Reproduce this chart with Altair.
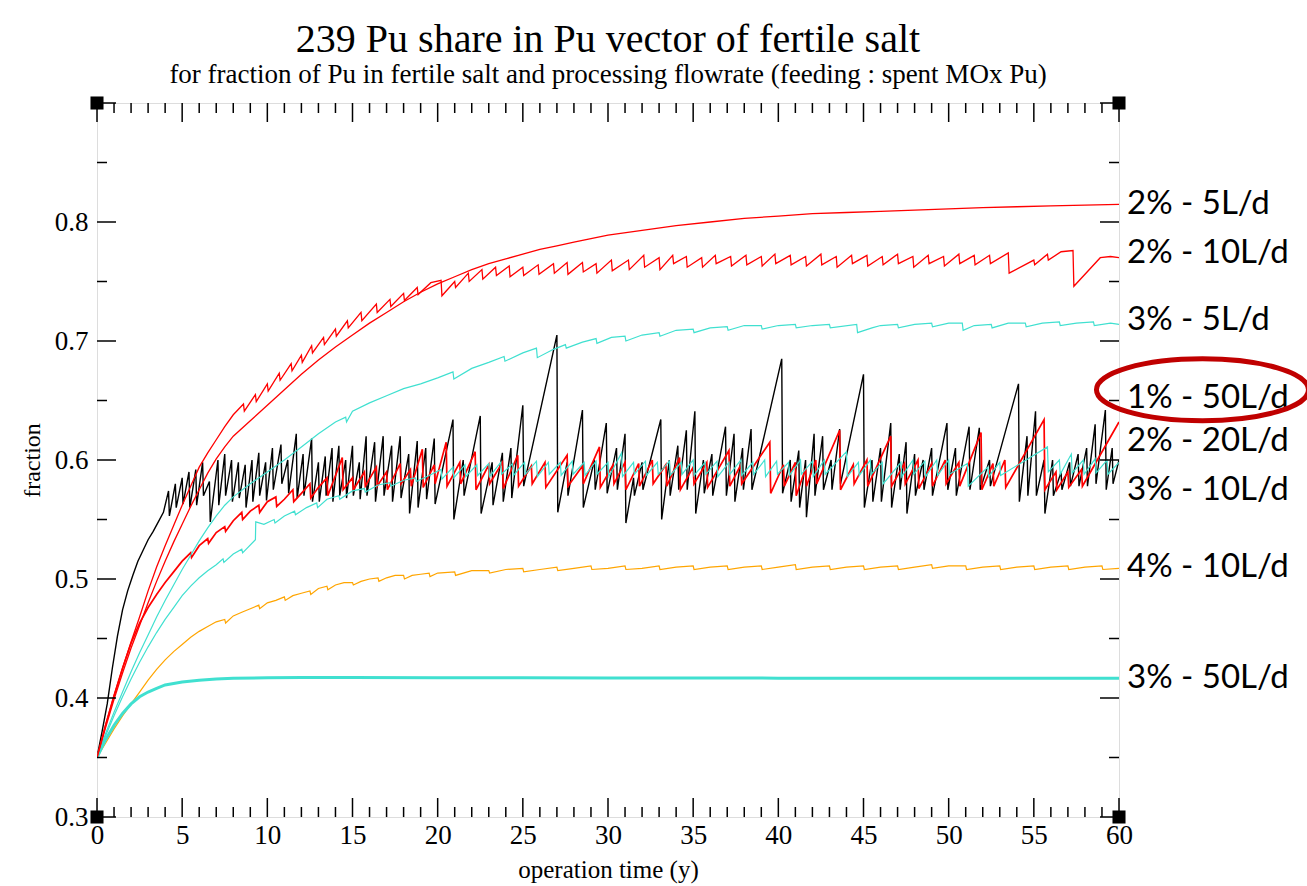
import altair as alt
import pandas as pd

# ---------------- data ----------------
RED_5 = [(0,0.35),(0.5,0.375),(1,0.399),(1.5,0.421),(2,0.442),(2.5,0.461),(3,0.48),(3.5,0.498),(4,0.515),(4.5,0.531),
         (5,0.546),(5.5,0.561),(6,0.575),(6.5,0.589),(7,0.601),(7.5,0.611),(8,0.62),(9,0.633),(10,0.646),(11,0.659),
         (12,0.672),(13,0.684),(14,0.695),(15,0.705),(16,0.715),(17,0.724),(18,0.733),(19,0.741),(20,0.748),(21,0.754),
         (22,0.76),(23,0.765),(24,0.769),(25,0.773),(26,0.777),(27,0.78),(28,0.783),(29,0.786),(30,0.789),(32,0.793),
         (34,0.797),(36,0.8),(38,0.803),(40,0.805),(42,0.807),(44,0.808),(46,0.809),(48,0.81),(50,0.811),(52,0.812),
         (54,0.8128),(56,0.8135),(58,0.8142),(60,0.8148)]

RED_10 = [(0,0.35),(0.5,0.377),(1,0.402),(1.5,0.425),(2,0.447),(2.5,0.468),(3,0.49),(3.5,0.51),(4,0.528),(4.5,0.545),
          (5,0.562),(5.5,0.578),(6,0.594),(6.5,0.606),(7,0.617),(7.5,0.628),(8,0.638),(8.6,0.647),(8.65,0.641),(9.3,0.655),
          (9.35,0.649),(10.0,0.664),(10.05,0.658),(10.7,0.673),(10.75,0.667),(11.4,0.681),(11.45,0.675),(12.0,0.688),
          (12.05,0.682),(12.6,0.696),(12.65,0.69),(13.3,0.703),(13.35,0.697),(14.0,0.71),(14.05,0.704),(14.7,0.717),
          (14.75,0.711),(15.5,0.724),(15.55,0.717),(16.4,0.731),(16.45,0.724),(17.2,0.735),(17.25,0.729),(18.0,0.74),
          (18.05,0.734),(18.8,0.745),(18.85,0.739),(19.6,0.749),(20.2,0.751),(20.25,0.738),(21.0,0.75),(21.05,0.745),
          (21.8,0.757),(21.85,0.75),(22.6,0.76),(22.65,0.752),(23.4,0.762),(23.45,0.755),(24.2,0.763),(24.25,0.754),
          (25.0,0.762),(25.05,0.755),(25.9,0.764),(25.95,0.756),(26.8,0.765),(26.85,0.757),(27.6,0.766),(27.65,0.756),
          (28.5,0.766),(28.55,0.758),(29.3,0.765),(29.35,0.757),(30.2,0.768),(30.25,0.759),(31.2,0.768),(31.25,0.76),
          (32.1,0.772),(32.15,0.762),(33.0,0.77),(33.05,0.76),(33.8,0.772),(33.85,0.765),(34.6,0.771),(34.65,0.762),
          (35.5,0.77),(35.55,0.762),(36.3,0.772),(36.35,0.765),(37.2,0.771),(37.25,0.763),(38.1,0.772),(38.15,0.764),
          (39.0,0.771),(39.05,0.763),(39.8,0.773),(39.85,0.765),(40.7,0.772),(40.75,0.764),(41.6,0.771),(41.65,0.763),
          (42.5,0.773),(42.55,0.764),(43.4,0.771),(43.45,0.762),(44.3,0.772),(44.35,0.765),(45.2,0.772),(45.25,0.763),
          (46.1,0.771),(46.15,0.764),(47.0,0.773),(47.05,0.765),(47.9,0.771),(47.95,0.762),(48.8,0.772),(48.85,0.765),
          (49.7,0.771),(49.75,0.763),(50.6,0.773),(50.65,0.765),(51.5,0.772),(51.55,0.764),(52.4,0.772),(52.45,0.765),
          (53.5,0.774),(53.55,0.757),(55.0,0.768),(55.05,0.764),(55.8,0.773),(55.85,0.768),(56.6,0.775),(57.3,0.776),
          (57.35,0.746),(58.9,0.77),(59.5,0.771),(60,0.77)]

CYAN_5 = [(0,0.35),(0.5,0.37),(1,0.388),(1.5,0.405),(2,0.422),(2.5,0.438),(3,0.453),(3.5,0.468),(4,0.482),(4.5,0.495),
          (5,0.508),(5.5,0.52),(6,0.532),(6.5,0.543),(7,0.553),(7.5,0.562),(8,0.569),(9,0.58),(10,0.59),(11,0.6),
          (12,0.611),(13,0.622),(14,0.632),(14.6,0.636),(14.65,0.632),(15,0.641),(16,0.648),(17,0.654),(18,0.66),
          (19,0.664),(20,0.669),(20.9,0.674),(20.95,0.668),(22,0.677),(23,0.682),(23.9,0.687),(23.95,0.683),(25,0.69),
          (25.8,0.694),(25.85,0.686),(26.8,0.693),(27.5,0.697),(27.55,0.694),(28.5,0.699),(29.3,0.702),(29.35,0.698),
          (30.2,0.703),(31.0,0.704),(31.05,0.7),(32,0.705),(33,0.707),(33.05,0.704),(34,0.709),(35,0.71),(35.05,0.707),
          (36,0.711),(37,0.712),(37.05,0.709),(38,0.713),(39,0.713),(39.05,0.71),(40,0.713),(41,0.714),(41.05,0.711),
          (42,0.713),(43,0.714),(43.05,0.711),(44.6,0.714),(44.65,0.707),(45.5,0.711),(46,0.713),(47,0.714),(47.05,0.711),
          (48,0.714),(49,0.715),(49.05,0.712),(50,0.715),(50.8,0.715),(50.85,0.709),(51.5,0.713),(52.5,0.714),
          (52.55,0.711),(53.5,0.715),(54.5,0.715),(54.55,0.712),(55.5,0.715),(56.5,0.716),(56.55,0.713),(57.5,0.715),
          (58.5,0.716),(58.55,0.713),(59.5,0.715),(60,0.714)]

BLACK_50 = [(0,0.35),(0.3,0.372),(0.6,0.395),(0.9,0.425),(1.2,0.452),(1.5,0.474),(1.8,0.49),(2.1,0.503),(2.4,0.515),
            (2.7,0.524),(3.0,0.533),(3.3,0.54),(3.6,0.548),(3.9,0.556),(4.2,0.574),(4.25,0.553),(4.6,0.58),(4.65,0.56),
            (5.0,0.585),(5.05,0.563),(5.4,0.59),(5.45,0.56),(5.8,0.592),(5.85,0.562),(6.2,0.598),(6.25,0.57),(6.6,0.582),
            (6.65,0.548),(7.1,0.6),(7.15,0.562),(7.5,0.605),(7.55,0.57),(7.9,0.6),(7.95,0.565),(8.3,0.598),(8.35,0.568),
            (8.7,0.596),(8.75,0.56),(9.1,0.6),(9.15,0.565),(9.5,0.606),(9.55,0.57),(9.9,0.598),(9.95,0.566),(10.3,0.61),
            (10.35,0.575),(10.8,0.613),(10.85,0.58),(11.2,0.6),(11.25,0.572),(11.7,0.622),(11.75,0.568),(12.1,0.605),
            (12.15,0.57),(12.6,0.618),(12.65,0.565),(13.0,0.598),(13.05,0.565),(13.4,0.603),(13.45,0.57),(13.8,0.61),
            (13.85,0.565),(14.2,0.612),(14.25,0.57),(14.6,0.6),(14.65,0.568),(15.0,0.612),(15.05,0.57),(15.4,0.598),
            (15.45,0.567),(15.8,0.62),(15.85,0.57),(16.3,0.615),(16.35,0.565),(16.8,0.62),(16.85,0.57),(17.3,0.612),
            (17.35,0.565),(17.8,0.62),(17.85,0.568),(18.3,0.605),(18.35,0.555),(18.8,0.616),(18.85,0.56),(19.3,0.61),
            (19.35,0.567),(19.8,0.618),(19.85,0.563),(20.9,0.634),(20.95,0.55),(21.5,0.6),(21.55,0.57),(22.5,0.637),
            (22.55,0.555),(23.2,0.598),(23.25,0.562),(23.8,0.606),(23.85,0.565),(24.3,0.61),(24.35,0.568),(25.0,0.646),
            (25.05,0.578),(27.0,0.705),(27.05,0.556),(27.6,0.598),(27.65,0.57),(28.5,0.642),(28.55,0.56),(29.2,0.6),
            (29.25,0.575),(29.9,0.631),(29.95,0.572),(30.5,0.61),(30.55,0.575),(31.0,0.622),(31.05,0.547),(31.5,0.585),
            (31.55,0.57),(32.0,0.598),(32.05,0.575),(33.1,0.634),(33.15,0.55),(33.6,0.6),(33.65,0.57),(34.1,0.612),
            (34.15,0.575),(34.6,0.625),(34.65,0.575),(35.1,0.641),(35.15,0.555),(35.6,0.6),(35.65,0.572),(36.1,0.605),
            (36.15,0.57),(36.9,0.628),(36.95,0.57),(37.4,0.622),(37.45,0.565),(37.9,0.61),(37.95,0.575),(38.4,0.626),
            (38.45,0.575),(40.2,0.685),(40.25,0.572),(40.7,0.6),(40.75,0.565),(41.2,0.608),(41.25,0.56),(41.6,0.6),
            (41.65,0.552),(42.1,0.622),(42.15,0.57),(42.6,0.62),(42.65,0.575),(43.1,0.6),(43.15,0.575),(43.6,0.626),
            (43.65,0.58),(45.0,0.672),(45.05,0.56),(45.5,0.6),(45.55,0.565),(46.0,0.61),(46.05,0.565),(46.6,0.631),
            (46.65,0.56),(47.1,0.605),(47.15,0.575),(47.5,0.615),(47.55,0.555),(48.0,0.605),(48.05,0.57),(48.5,0.6),
            (48.55,0.575),(49.0,0.61),(49.05,0.57),(49.9,0.631),(49.95,0.575),(50.4,0.61),(50.45,0.57),(51.2,0.628),
            (51.25,0.575),(51.8,0.627),(51.85,0.575),(52.4,0.6),(52.45,0.578),(54.1,0.664),(54.15,0.565),(54.6,0.62),
            (54.65,0.57),(55.1,0.641),(55.15,0.57),(55.6,0.6),(55.65,0.555),(56.1,0.6),(56.15,0.57),(56.6,0.59),
            (56.65,0.575),(57.1,0.598),(57.15,0.578),(57.6,0.605),(57.65,0.578),(58.1,0.61),(58.15,0.578),(58.6,0.63),
            (58.65,0.58),(59.2,0.642),(59.25,0.575),(59.6,0.61),(59.65,0.58),(60,0.6)]

RED_20 = [(0,0.35),(0.5,0.377),(1,0.402),(1.5,0.425),(2,0.446),(2.5,0.463),(3,0.476),(3.5,0.487),(4,0.497),(4.5,0.506),
          (5,0.515),(5.5,0.522),(5.55,0.518),(6,0.528),(6.5,0.534),(6.55,0.53),(7,0.539),(7.5,0.544),(7.55,0.54),(8,0.549),
          (8.5,0.556),(8.55,0.55),(9,0.557),(9.5,0.562),(9.55,0.556),(10,0.565),(10.5,0.569),(10.55,0.561),(11,0.567),
          (11.5,0.575),(11.55,0.565),(12,0.572),(12.5,0.58),(12.55,0.568),(13,0.577),(13.5,0.585),(13.55,0.57),
          (14.4,0.602),(14.45,0.575),(15,0.585),(15.05,0.575),(15.7,0.59),(15.75,0.578),(16.4,0.594),(16.45,0.578),
          (17,0.59),(17.05,0.575),(17.8,0.597),(17.85,0.58),(18.4,0.592),(18.45,0.578),(19.1,0.609),(19.15,0.577),
          (19.8,0.596),(19.85,0.58),(20.5,0.615),(20.55,0.578),(21.3,0.598),(21.35,0.58),(22.2,0.607),(22.25,0.575),
          (23.0,0.596),(23.05,0.58),(23.8,0.598),(23.85,0.576),(24.7,0.604),(24.75,0.578),(25.5,0.595),(25.55,0.58),
          (26.3,0.598),(26.35,0.577),(27.6,0.604),(27.65,0.578),(28.5,0.595),(28.55,0.58),(29.5,0.611),(29.55,0.577),
          (30.3,0.596),(30.35,0.58),(31.0,0.598),(31.05,0.575),(31.8,0.597),(31.85,0.578),(32.6,0.6),(32.65,0.58),
          (33.4,0.596),(33.45,0.578),(34.2,0.602),(34.25,0.575),(35.0,0.594),(35.05,0.58),(35.8,0.598),(35.85,0.577),
          (37.1,0.608),(37.15,0.578),(37.8,0.596),(37.85,0.58),(39.5,0.615),(39.55,0.572),(40.3,0.596),(40.35,0.578),
          (41.0,0.598),(41.05,0.57),(41.6,0.593),(41.65,0.578),(42.2,0.6),(42.25,0.58),(43.6,0.625),(43.65,0.575),
          (44.4,0.596),(44.45,0.58),(45.2,0.6),(45.25,0.578),(46.6,0.62),(46.65,0.578),(47.4,0.597),(47.45,0.58),
          (48.2,0.6),(48.25,0.576),(49.0,0.597),(49.05,0.578),(49.8,0.6),(49.85,0.58),(50.6,0.598),(50.65,0.578),
          (51.9,0.623),(51.95,0.575),(52.6,0.597),(52.65,0.578),(53.3,0.6),(53.35,0.577),(55.6,0.634),(55.65,0.575),
          (56.3,0.59),(56.35,0.575),(57.0,0.59),(57.05,0.577),(57.8,0.592),(57.85,0.578),(60,0.632)]

CYAN_10 = [(0,0.35),(0.5,0.368),(1,0.385),(1.5,0.401),(2,0.416),(2.5,0.43),(3,0.443),(3.5,0.455),(4,0.466),(4.5,0.476),
           (5,0.486),(5.5,0.494),(6,0.501),(6.5,0.507),(7,0.512),(7.4,0.517),(7.45,0.514),(8,0.521),(8.5,0.525),
           (8.55,0.522),(9.3,0.533),(9.32,0.548),(9.8,0.546),(10.4,0.55),(10.45,0.547),(11,0.553),(11.6,0.557),
           (11.65,0.554),(12.3,0.56),(12.9,0.564),(12.95,0.56),(13.5,0.567),(14.2,0.57),(14.25,0.567),(15,0.574),
           (15.7,0.576),(15.75,0.573),(16.5,0.579),(17.2,0.581),(17.25,0.578),(18,0.583),(18.7,0.585),(18.75,0.582),
           (19.5,0.587),(20.2,0.592),(20.25,0.584),(20.9,0.594),(20.95,0.585),(21.6,0.596),(21.65,0.586),(22.3,0.596),
           (22.35,0.587),(23.0,0.597),(23.05,0.586),(23.7,0.598),(23.75,0.588),(24.4,0.597),(24.45,0.587),(25.1,0.598),
           (25.15,0.588),(25.8,0.599),(25.85,0.586),(26.5,0.598),(26.55,0.588),(27.2,0.598),(27.25,0.587),(27.9,0.599),
           (27.95,0.588),(28.6,0.598),(28.65,0.587),(29.3,0.599),(29.35,0.588),(30.0,0.598),(30.05,0.586),(30.8,0.606),
           (30.85,0.586),(31.5,0.598),(31.55,0.588),(32.2,0.599),(32.25,0.587),(32.9,0.598),(32.95,0.588),(33.6,0.599),
           (33.65,0.587),(34.3,0.598),(34.35,0.588),(35.0,0.6),(35.05,0.587),(35.7,0.598),(35.75,0.588),(36.4,0.599),
           (36.45,0.586),(37.1,0.598),(37.15,0.588),(37.8,0.6),(37.85,0.587),(38.5,0.598),(38.55,0.588),(39.2,0.6),
           (39.25,0.586),(39.9,0.599),(39.95,0.588),(40.6,0.598),(40.65,0.587),(41.3,0.6),(41.35,0.588),(42.0,0.599),
           (42.05,0.586),(42.7,0.6),(42.75,0.588),(44.0,0.607),(44.05,0.586),(44.7,0.598),(44.75,0.587),(45.4,0.6),
           (45.45,0.588),(46.1,0.598),(46.15,0.58),(47.2,0.598),(47.25,0.586),(47.9,0.6),(47.95,0.588),(48.6,0.599),
           (48.65,0.586),(49.3,0.6),(49.35,0.587),(50.0,0.6),(50.05,0.588),(51.1,0.597),(51.15,0.578),(52.3,0.594),
           (52.35,0.586),(53.0,0.598),(53.05,0.587),(55.8,0.611),(55.85,0.59),(56.5,0.6),(56.55,0.588),(57.2,0.605),
           (57.25,0.589),(57.9,0.6),(57.95,0.588),(58.6,0.601),(58.65,0.589),(59.3,0.6),(59.35,0.588),(60,0.598)]

ORANGE_10 = [(0,0.35),(0.5,0.362),(1,0.374),(1.5,0.385),(2,0.395),(2.5,0.405),(3,0.415),(3.5,0.424),(4,0.432),
             (4.5,0.439),(5,0.445),(5.5,0.451),(6,0.456),(6.5,0.46),(7,0.464),(7.5,0.466),(7.55,0.463),(8,0.469),
             (8.5,0.472),(9,0.475),(9.5,0.478),(9.55,0.475),(10,0.48),(10.5,0.482),(11,0.485),(11.05,0.482),(11.5,0.486),
             (12,0.488),(12.5,0.49),(12.55,0.487),(13,0.492),(13.5,0.494),(13.55,0.491),(14,0.495),(14.5,0.497),
             (15,0.497),(15.05,0.495),(15.5,0.498),(16,0.5),(16.5,0.501),(16.55,0.498),(17,0.501),(17.5,0.503),
             (18,0.503),(18.05,0.5),(18.5,0.503),(19,0.504),(19.5,0.505),(19.55,0.502),(20,0.505),(21,0.506),
             (21.05,0.503),(22,0.507),(23,0.507),(23.05,0.505),(24,0.508),(25,0.509),(25.05,0.506),(26,0.508),
             (27,0.51),(27.05,0.507),(28,0.509),(29,0.511),(29.05,0.508),(30,0.509),(31,0.511),(31.05,0.508),
             (32,0.509),(33,0.511),(33.05,0.508),(34,0.51),(35,0.511),(35.05,0.508),(36,0.51),(37,0.511),(37.05,0.508),
             (38,0.51),(39,0.511),(39.05,0.508),(40,0.51),(41,0.512),(41.05,0.508),(42,0.51),(43,0.511),(43.05,0.508),
             (44,0.51),(45,0.511),(45.05,0.508),(46,0.51),(47,0.511),(47.05,0.508),(48,0.51),(49,0.512),(49.05,0.509),
             (50,0.511),(51,0.511),(51.05,0.508),(52,0.51),(53,0.511),(53.05,0.508),(54,0.51),(55,0.511),(55.05,0.508),
             (56,0.51),(57,0.511),(57.05,0.508),(58,0.51),(59,0.511),(59.05,0.508),(60,0.509)]

CYAN_50 = [(0,0.35),(0.5,0.365),(1,0.377),(1.5,0.387),(2,0.395),(2.5,0.401),(3,0.405),(3.5,0.408),(4,0.411),
           (5,0.4135),(6,0.415),(7,0.416),(8,0.4165),(10,0.417),(12,0.4172),(15,0.4172),(20,0.417),(25,0.417),
           (30,0.4168),(35,0.4168),(40,0.4167),(45,0.4167),(50,0.4166),(55,0.4166),(60,0.4165)]

# draw order, colour, line width
SERIES = [
    ("1% - 50L/d", BLACK_50, "#000000", 1.4),
    ("2% - 20L/d", RED_20, "#ff0000", 1.7),
    ("3% - 10L/d", CYAN_10, "#40e0d0", 1.2),
    ("4% - 10L/d", ORANGE_10, "#ffa500", 1.2),
    ("3% - 50L/d", CYAN_50, "#40e0d0", 3.0),
    ("3% - 5L/d", CYAN_5, "#40e0d0", 1.2),
    ("2% - 10L/d", RED_10, "#ff0000", 1.3),
    ("2% - 5L/d", RED_5, "#ff0000", 1.3),
]

LABELS = ["2% - 5L/d", "2% - 10L/d", "3% - 5L/d", "1% - 50L/d", "2% - 20L/d", "3% - 10L/d", "4% - 10L/d", "3% - 50L/d"]
LABEL_Y = [0.815, 0.774, 0.718, 0.652, 0.616, 0.575, 0.510, 0.417]

X_MAJOR = list(range(0, 61, 5))
X_MINOR = [i for i in range(0, 61) if i % 5 != 0]
Y_MAJOR = [0.3, 0.4, 0.5, 0.6, 0.7, 0.8, 0.9]
Y_MINOR = [0.35, 0.45, 0.55, 0.65, 0.75, 0.85]
Y_LABELS = [0.3, 0.4, 0.5, 0.6, 0.7, 0.8]
CORNER_T = [0, 60, 0, 60]
CORNER_V = [0.3, 0.3, 0.9, 0.9]
HIGHLIGHT = {"t": [64.9], "v": [0.659]}

TITLE = "239 Pu share in Pu vector of fertile salt"
SUBTITLE = "for fraction of Pu in fertile salt and processing flowrate (feeding : spent MOx Pu)"

# ---------------- chart ----------------
W, H = 1022, 714
SERIF = "Liberation Serif"

xscale = alt.Scale(domain=[0, 60], nice=False, zero=False)
yscale = alt.Scale(domain=[0.3, 0.9], nice=False, zero=False)
xaxis = alt.Axis(values=X_MAJOR, ticks=False, domain=False, grid=False, labelFont=SERIF, labelFontSize=27,
                 labelColor="black", labelPadding=5, labelFlush=False, format="d",
                 titleFont=SERIF, titleFontSize=25, titleFontWeight="normal", titleColor="black", titlePadding=9)
yaxis = alt.Axis(values=Y_LABELS, ticks=False, domain=False, grid=False, labelFont=SERIF, labelFontSize=27,
                 labelColor="black", labelPadding=9, labelFlush=False, format=".1f",
                 titleFont=SERIF, titleFontSize=24, titleFontWeight="normal", titleColor="black", titlePadding=10)


def X(field="t"):
    return alt.X(f"{field}:Q", scale=xscale, axis=xaxis, title="operation time (y)")


def Y(field="v"):
    return alt.Y(f"{field}:Q", scale=yscale, axis=yaxis, title="fraction")


rows = []
for name, pts, _, _ in SERIES:
    for i, (t, v) in enumerate(pts):
        rows.append({"s": name, "t": t, "v": v, "i": i})
df = pd.DataFrame(rows)

base = alt.Chart(df).encode(x=X(), y=Y(), order=alt.Order("i:Q"))
layers = []
for name, _, color, w in SERIES:
    layers.append(base.transform_filter(alt.datum.s == name)
                  .mark_line(color=color, strokeWidth=w, clip=True, interpolate="linear"))


# inward ticks on all four sides
def tick_layer(vals, axis, side, length, width):
    d = pd.DataFrame({"t" if axis == "x" else "v": vals})
    ch = alt.Chart(d).mark_rule(color="black", strokeWidth=width)
    if axis == "x":
        if side == "bottom":
            return ch.encode(x=X(), y=alt.value(H), y2=alt.value(H - length))
        return ch.encode(x=X(), y=alt.value(0), y2=alt.value(length))
    if side == "left":
        return ch.encode(y=Y(), x=alt.value(0), x2=alt.value(length))
    return ch.encode(y=Y(), x=alt.value(W), x2=alt.value(W - length))


for side in ["bottom", "top"]:
    layers.append(tick_layer(X_MAJOR, "x", side, 19, 1.5))
    layers.append(tick_layer(X_MINOR, "x", side, 10, 1.5))
for side in ["left", "right"]:
    layers.append(tick_layer(Y_MAJOR, "y", side, 19, 1.5))
    layers.append(tick_layer(Y_MINOR, "y", side, 10, 1.5))

corners = alt.Chart(pd.DataFrame({"t": CORNER_T, "v": CORNER_V})).mark_square(
    size=170, color="black", filled=True, opacity=1).encode(x=X(), y=Y())
layers.append(corners)

labels = alt.Chart(pd.DataFrame({"t": [60] * len(LABELS), "v": LABEL_Y, "lab": LABELS})).mark_text(
    align="left", baseline="middle", dx=8, font="Lato", fontSize=33, color="black").encode(
    x=X(), y=Y(), text="lab:N")
layers.append(labels)

ELLIPSE = "M -1 0 A 1 0.292 0 1 1 1 0 A 1 0.292 0 1 1 -1 0 Z"
ring = alt.Chart(pd.DataFrame(HIGHLIGHT)).mark_point(
    shape=ELLIPSE, size=212 * 212, filled=False, color="#c00000", strokeWidth=5, opacity=1).encode(x=X(), y=Y())
layers.append(ring)

chart = alt.layer(*layers).properties(
    width=W, height=H,
    title=alt.Title(TITLE, subtitle=SUBTITLE, font=SERIF, fontSize=40, fontWeight="normal", color="black",
                    subtitleFont=SERIF, subtitleFontSize=27, subtitleColor="black", subtitlePadding=2,
                    anchor="middle", offset=8),
    padding={"left": 97, "top": 103, "right": 188, "bottom": 69},
    autosize=alt.AutoSizeParams(type="none"),
).configure_view(stroke="black", strokeWidth=2).configure(background="white")

chart.save("out.html", embed_options={"renderer": "svg", "actions": False})
